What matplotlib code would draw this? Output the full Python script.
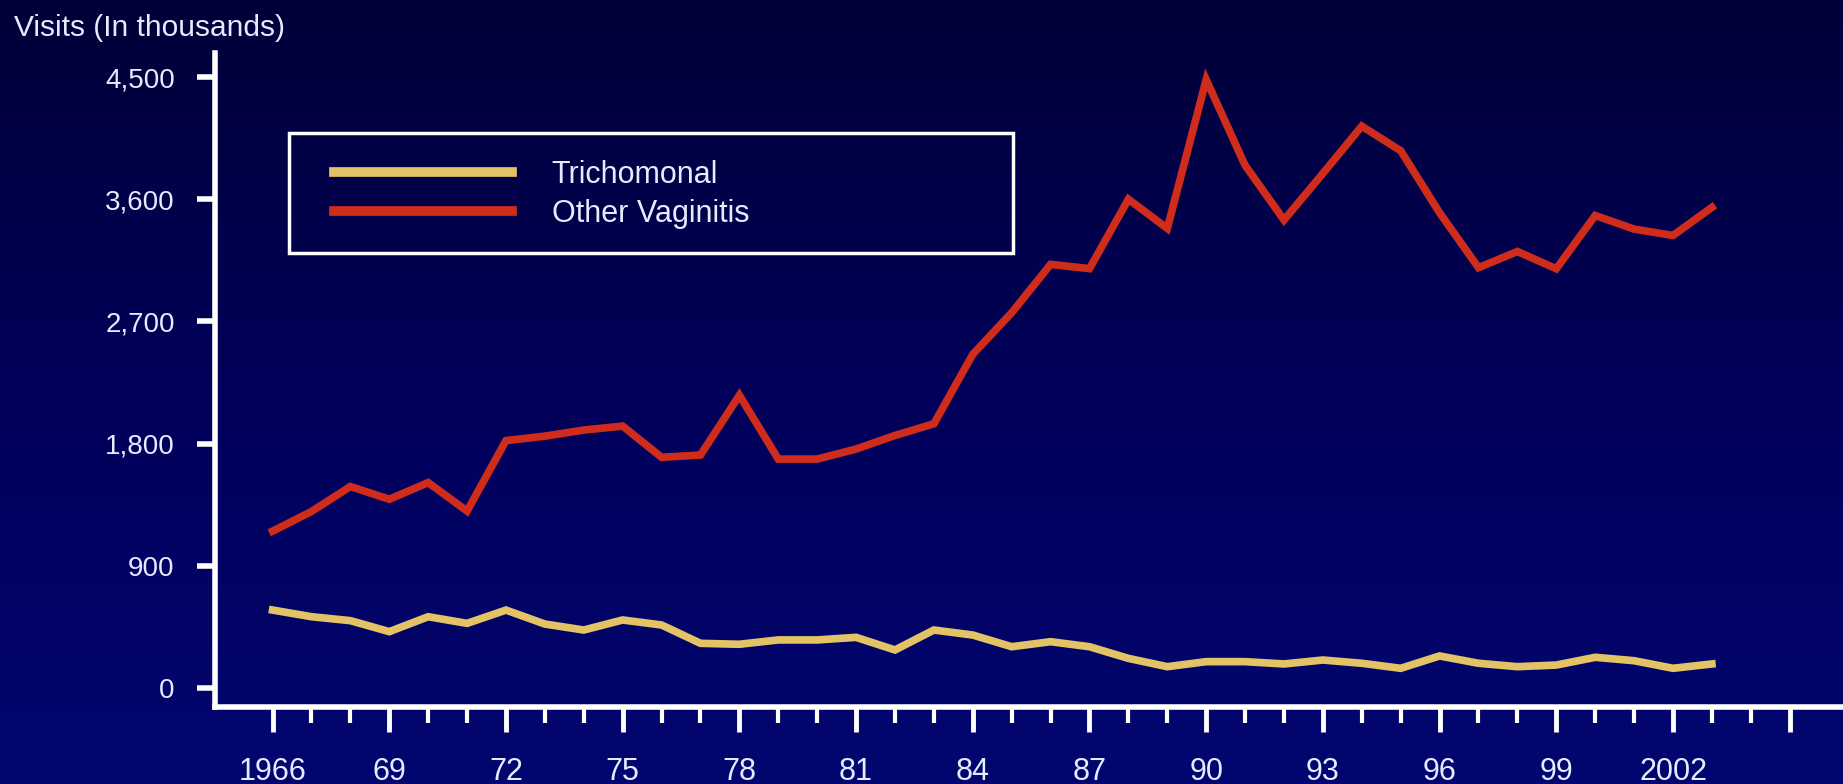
import numpy as np
import matplotlib.pyplot as plt
from matplotlib.patches import Rectangle
from matplotlib.colors import LinearSegmentedColormap

plt.rcParams['font.family'] = ['Liberation Sans', 'DejaVu Sans']

# data (visits, thousands)
years = list(range(1966, 2004))
trichomonal = [574, 525, 496, 415, 525, 476, 574, 471, 427, 501,
               464, 329, 322, 354, 354, 373, 280, 427, 390, 304,
               341, 304, 218, 157, 194, 194, 177, 206, 182, 145,
               236, 182, 157, 169, 226, 201, 145, 177]
other_vaginitis = [1155, 1300, 1484, 1390, 1513, 1303, 1822, 1855, 1900, 1929,
                   1699, 1716, 2156, 1686, 1686, 1760, 1860, 1946, 2458, 2764,
                   3120, 3089, 3600, 3385, 4480, 3850, 3447, 3790, 4138, 3957,
                   3500, 3096, 3215, 3088, 3480, 3380, 3333, 3540]
series_names = ['Trichomonal', 'Other Vaginitis']
series_colors = ['#E3C365', '#CF2C1C']

ytick_vals = [0, 900, 1800, 2700, 3600, 4500]
ytick_labels = ['0', '900', '1,800', '2,700', '3,600', '4,500']
xtick_vals = list(range(1966, 2006, 3))
xtick_labels = ['1966', '69', '72', '75', '78', '81', '84', '87', '90',
                '93', '96', '99', '2002', '']

text_col = '#e6ebff'

fig = plt.figure(figsize=(18.43, 7.84), dpi=100)

# dark blue gradient background
bg = fig.add_axes([0, 0, 1, 1], zorder=-1)
cmap = LinearSegmentedColormap.from_list('bg', ['#020670', '#00005a', '#000038'])
bg.imshow(np.linspace(0, 1, 256).reshape(-1, 1), aspect='auto', cmap=cmap,
          extent=[0, 1, 0, 1], origin='lower')
bg.axis('off')

W, H = 1843, 784
ax = fig.add_axes([215 / W, 1 - 707 / H, 1 - 215 / W, (707 - 53) / H])
ax.set_facecolor('none')

lines = []
for vals, name, col in zip([trichomonal, other_vaginitis], series_names, series_colors):
    ln, = ax.plot(years, vals, color=col, lw=5.5, label=name, solid_joinstyle='miter')
    lines.append(ln)

ax.set_xlim(1964.52, 2006.37)
ax.set_ylim(-140, 4677)

for s in ['top', 'right']:
    ax.spines[s].set_visible(False)
for s in ['left', 'bottom']:
    ax.spines[s].set_color('white')
    ax.spines[s].set_linewidth(4)

ax.set_yticks(ytick_vals)
ax.set_yticklabels(ytick_labels)
ax.set_xticks(xtick_vals)
ax.set_xticklabels(xtick_labels)
ax.set_xticks(years + [2004, 2005], minor=True)

ax.tick_params(axis='y', direction='out', length=13, width=4, pad=16,
               color='white', labelcolor=text_col, labelsize=20)
ax.tick_params(axis='x', which='major', direction='out', length=18, width=3.5,
               pad=18, color='white', labelcolor=text_col, labelsize=22)
ax.tick_params(axis='x', which='minor', direction='out', length=11.5, width=3,
               color='white')

fig.text(14 / W, 1 - 28 / H, 'Visits (In thousands)', ha='left', va='center',
         fontsize=21.5, color=text_col)

# legend: content from the plotted lines, plain white box around it
leg = ax.legend(handles=lines, loc='upper left', bbox_to_anchor=(0.0729, 0.8364),
                frameon=False, borderpad=0, borderaxespad=0, handlelength=5.84,
                handletextpad=1.29, labelspacing=0.29, fontsize=22,
                labelcolor=text_col)
for l in leg.get_lines():
    l.set_linewidth(7)
ax.add_patch(Rectangle((0.04545, 0.6942), 0.4447, 0.1835, transform=ax.transAxes,
                       fill=False, ec='white', lw=2.5, clip_on=False))

fig.savefig('out.png', dpi=100)
